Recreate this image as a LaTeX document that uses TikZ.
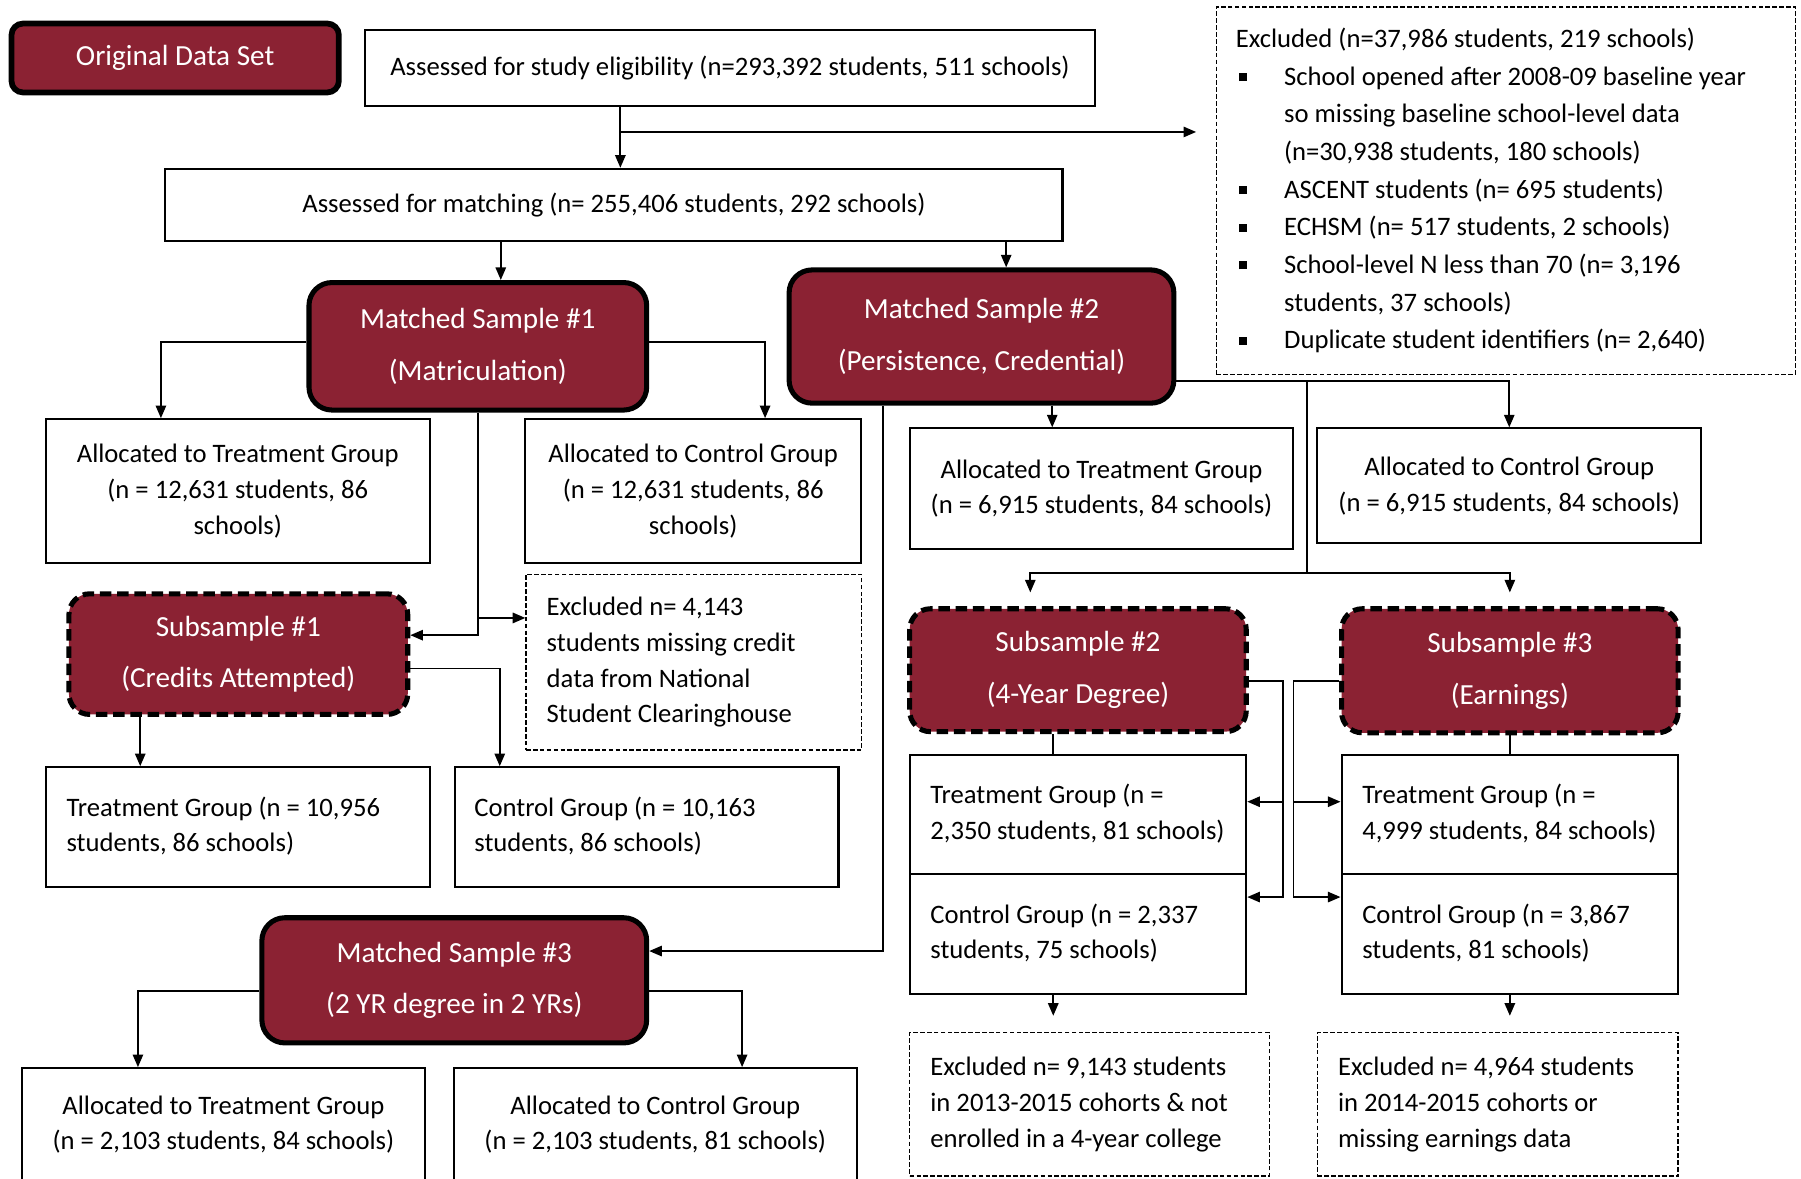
\documentclass[tikz,border=0pt]{standalone}
\usepackage{fontspec}
\setmainfont{Carlito}
\usetikzlibrary{arrows.meta,calc}
\definecolor{msred}{RGB}{139,34,51}
\newcommand{\mysqb}{\hspace{1.5pt}\rule[1.8pt]{3.5pt}{3.5pt}}
\newcommand{\ltx}[2]{\makebox[#1][l]{\begin{tabular}{@{}l@{}}#2\end{tabular}}}
\begin{document}
\begin{tikzpicture}[x=0.5pt,y=-0.5pt,
  every node/.style={font=\fontsize{11.6}{15.5}\selectfont, inner sep=0pt},
  plainbox/.style={draw, line width=0.9pt, align=center},
  redbox/.style={draw, line width=2.2pt, rounded corners=10pt, fill=msred, text=white, align=center, font=\fontsize{12.7}{22.5}\selectfont},
  subbox/.style={redbox, rounded corners=9pt, dash pattern=on 5pt off 2.5pt},
  exbox/.style={draw, line width=0.6pt, dash pattern=on 2pt off 1pt},
  conn/.style={line width=0.8pt},
  arr/.style={conn, -{Triangle[length=5.5pt,width=4.5pt]}},
]
\useasboundingbox (0,0) rectangle (1568,1026);

% ---------- nodes ----------
\node[redbox, line width=2.5pt, rounded corners=5pt, minimum width=142.5pt, minimum height=30pt] (orig) at (152.5,50.5) {Original Data Set};
\node[plainbox, minimum width=317.5pt, minimum height=33pt] (elig) at (635.5,59) {Assessed for study eligibility (n=293,392 students, 511 schools)};
\node[exbox, minimum width=252pt, minimum height=160pt, font=\fontsize{11.6}{16.4}\selectfont] (ex0) at (1311,166)
{\makebox[235pt][l]{\raisebox{-2pt}{\begin{tabular}{@{}p{21pt}@{}l@{}}
\multicolumn{2}{@{}l@{}}{Excluded (n=37,986 students, 219 schools)}\\
\mysqb & School opened after 2008-09 baseline year\\
 & so missing baseline school-level data\\
 & (n=30,938 students, 180 schools)\\
\mysqb & ASCENT students (n= 695 students)\\
\mysqb & ECHSM (n= 517 students, 2 schools)\\
\mysqb & School-level N less than 70 (n= 3,196\\
 & students, 37 schools)\\
\mysqb & Duplicate student identifiers (n= 2,640)
\end{tabular}}}};
\node[plainbox, minimum width=390.5pt, minimum height=31.5pt] (match) at (534.5,178.5) {Assessed for matching (n= 255,406 students, 292 schools)};
\node[redbox, minimum width=147pt, minimum height=55.5pt] (ms1) at (416,301.5) {Matched Sample \#1\\(Matriculation)};
\node[redbox, minimum width=167.5pt, minimum height=58pt] (ms2) at (854.5,293) {Matched Sample \#2\\(Persistence, Credential)};
\node[plainbox, minimum width=167pt, minimum height=62.5pt] (tr1) at (207,427.5) {Allocated to Treatment Group\\(n = 12,631 students, 86\\schools)};
\node[plainbox, minimum width=146.5pt, minimum height=62.5pt] (ct1) at (603.5,427.5) {Allocated to Control Group\\(n = 12,631 students, 86\\schools)};
\node[subbox, minimum width=147.5pt, minimum height=52.5pt] (sub1) at (207.5,569.5) {Subsample \#1\\(Credits Attempted)};
\node[exbox, minimum width=146pt, minimum height=76.5pt] (ex1) at (604,576.5) {\ltx{128pt}{Excluded n= 4,143\\students missing credit\\data from National\\Student Clearinghouse}};
\node[plainbox, minimum width=167pt, minimum height=52pt] (tg1) at (207,720) {\ltx{149pt}{Treatment Group (n = 10,956\\students, 86 schools)}};
\node[plainbox, minimum width=167pt, minimum height=52pt] (cg1) at (563,720) {\ltx{150pt}{Control Group (n = 10,163\\students, 86 schools)}};
\node[plainbox, minimum width=167pt, minimum height=52.5pt] (tr2) at (959,425.5) {Allocated to Treatment Group\\(n = 6,915 students, 84 schools)};
\node[plainbox, minimum width=167pt, minimum height=50pt] (ct2) at (1314,423) {Allocated to Control Group\\(n = 6,915 students, 84 schools)};
\node[subbox, minimum width=146.5pt, minimum height=53.5pt] (sub2) at (938.5,583.5) {Subsample \#2\\(4-Year Degree)};
\node[subbox, minimum width=146.5pt, minimum height=54pt] (sub3) at (1314.5,584) {Subsample \#3\\(Earnings)};
\node[plainbox, minimum width=146.5pt, minimum height=52pt] (tg2) at (938.5,709) {\ltx{128.5pt}{Treatment Group (n =\\2,350 students, 81 schools)}};
\node[plainbox, minimum width=146.5pt, minimum height=52pt] (cg2) at (938.5,813) {\ltx{128.5pt}{Control Group (n = 2,337\\students, 75 schools)}};
\node[plainbox, minimum width=146.5pt, minimum height=52pt] (tg3) at (1314.5,709) {\ltx{128.5pt}{Treatment Group (n =\\4,999 students, 84 schools)}};
\node[plainbox, minimum width=146.5pt, minimum height=52pt] (cg3) at (1314.5,813) {\ltx{128.5pt}{Control Group (n = 3,867\\students, 81 schools)}};
\node[exbox, minimum width=156.5pt, minimum height=62.5pt] (ex2) at (948.5,961.5) {\ltx{138.5pt}{Excluded n= 9,143 students\\in 2013-2015 cohorts \& not\\enrolled in a 4-year college}};
\node[exbox, minimum width=157pt, minimum height=62.5pt] (ex3) at (1304,961.5) {\ltx{139pt}{Excluded n= 4,964 students\\in 2014-2015 cohorts or\\missing earnings data}};
\node[redbox, minimum width=167.5pt, minimum height=54.5pt] (ms3) at (395.5,853.5) {Matched Sample \#3\\(2 YR degree in 2 YRs)};
\node[plainbox, minimum width=175.5pt, minimum height=55pt,
  label={[align=center, yshift=3pt]center:{Allocated to Treatment Group\\(n = 2,103 students, 84 schools)}}] (tg4) at (194.5,985) {};
\node[plainbox, minimum width=175.5pt, minimum height=55pt,
  label={[align=center, yshift=3pt]center:{Allocated to Control Group\\(n = 2,103 students, 81 schools)}}] (cg4) at (570.5,985) {};

% ---------- connectors ----------
\coordinate (j0) at ($(elig.south west)+(223,0)$);
\draw[arr] (j0) -- (j0 |- match.north);
\coordinate (j0b) at ($(elig.south west)+(223,22)$);
\draw[arr, shorten >=8.5pt] (j0b) -- (j0b -| ex0.west);

\coordinate (k1) at ($(ms1.north)+(20,0)$);
\draw[arr] (k1 |- match.south) -- (k1);
\coordinate (k2) at ($(ms2.north)+(21.5,0)$);
\draw[arr] (k2 |- match.south) -- (k2);

\draw[arr] ($(ms1.west)+(0,-3.5)$) -| ($(tr1.north west)+(101,0)$);
\draw[arr] ($(ms1.east)+(0,-3.5)$) -| ($(ct1.north west)+(210,0)$);

\draw[arr] (ms1.south) |- ($(sub1.east)+(0,-16.5)$);
\coordinate (j1) at ($(ex1.west)+(0,-38.5)$);
\draw[arr] (j1 -| ms1.south) -- (j1);

\coordinate (k3) at ($(tg1.north west)+(83,0)$);
\draw[arr] (k3 |- sub1.south) -- (k3);
\draw[arr] ($(sub1.east)+(0,12.5)$) -| ($(cg1.north west)+(40,0)$);

\draw[arr] ($(ms2.south west)+(84,0)$) |- ($(ms3.east)+(0,-25.5)$);
\coordinate (k4) at ($(tr2.north west)+(125,0)$);
\draw[arr] (k4 |- ms2.south) -- (k4);
\draw[arr] ($(ms2.east)+(0,39)$) -| (ct2.north);

\coordinate (j2) at ($(ms2.east)+(114,39)$);
\coordinate (j3) at ($(j2)+(0,167)$);
\draw[conn] (j2) -- (j3);
\draw[arr, shorten >=6pt] (j3) -| ($(sub2.north)+(-41.5,0)$);
\draw[arr, shorten >=6pt] (j3) -| (sub3.north);

\draw[conn] ($(sub2.south)+(-21.5,0)$) -- ($(tg2.north)+(-21.5,0)$);
\draw[conn] (sub3.south) -- (tg3.north);

\coordinate (j5) at ($(cg2.east)+(31,-32)$);
\draw[arr] ($(sub2.east)+(0,9.5)$) -| (j5) -- (j5 -| cg2.east);
\coordinate (j6) at ($(tg2.east)+(31,-11)$);
\draw[arr] (j6) -- (j6 -| tg2.east);

\coordinate (j8) at ($(cg3.west)+(-41,-32)$);
\draw[arr] ($(sub3.west)+(0,9)$) -| (j8) -- (j8 -| cg3.west);
\coordinate (j9) at ($(tg3.west)+(-41,-11)$);
\draw[arr] (j9) -- (j9 -| tg3.west);

\coordinate (k5) at ($(cg2.south)+(-21.5,0)$);
\draw[arr, shorten >=7pt] (k5) -- (k5 |- ex2.north);
\draw[arr, shorten >=7pt] (cg3.south) -- (cg3.south |- ex3.north);

\draw[arr] ($(ms3.west)+(0,9.5)$) -| ($(tg4.north west)+(102,0)$);
\draw[arr] ($(ms3.east)+(0,9.5)$) -| ($(cg4.north west)+(252,0)$);
\end{tikzpicture}
\end{document}
